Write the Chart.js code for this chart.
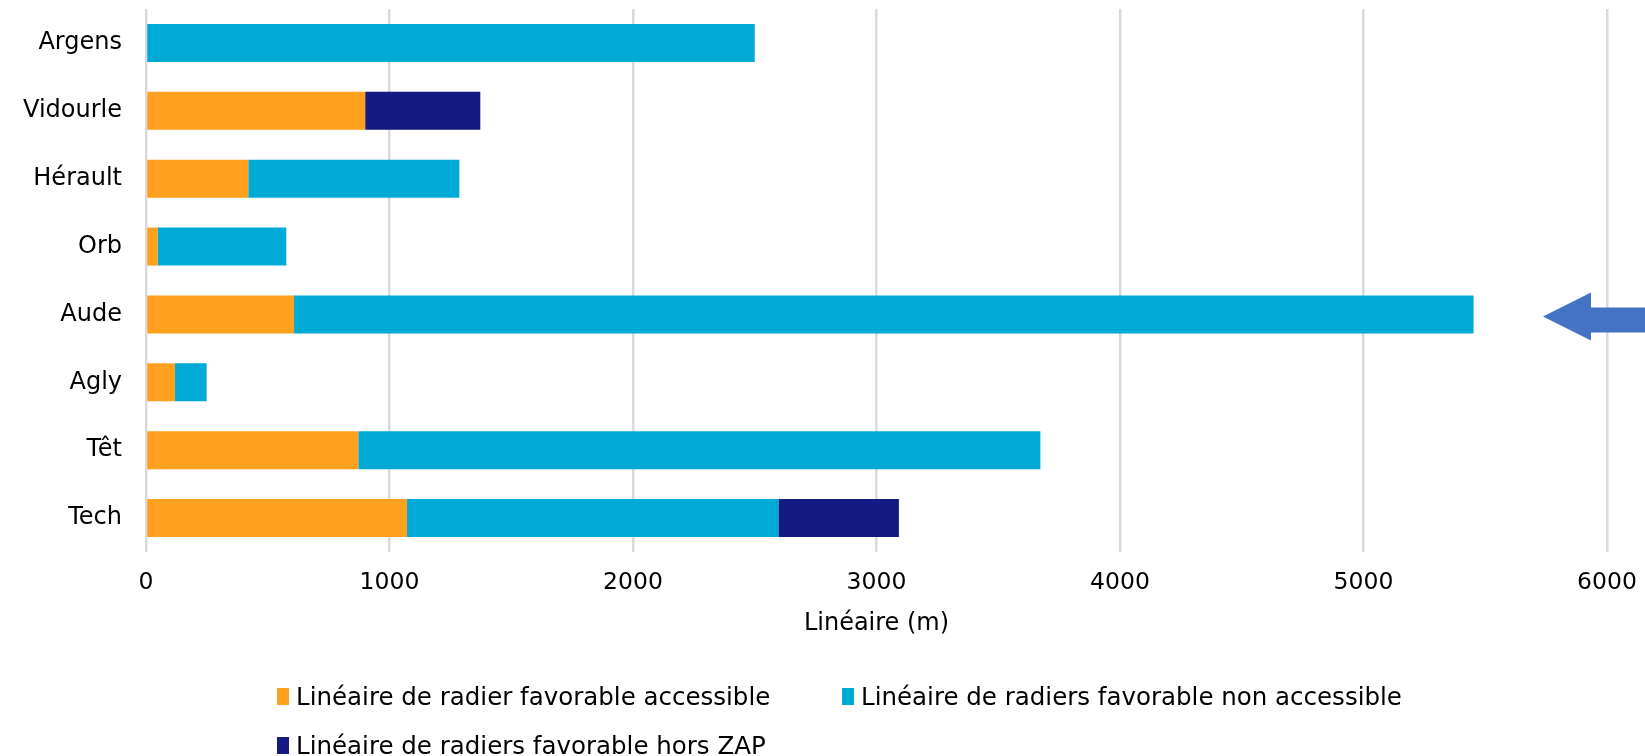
<!DOCTYPE html>
<html>
<head>
<meta charset="utf-8">
<script src="https://cdn.jsdelivr.net/npm/chart.js@4.4.1/dist/chart.umd.min.js"></script>
<style>
  html, body { margin: 0; padding: 0; background: #ffffff; }
  #wrap { position: relative; width: 1645px; height: 756px; overflow: hidden; }
  #c { position: absolute; left: 0; top: 0; }
  .lg { position: absolute; display: flex; align-items: center; font-family: 'DejaVu Sans', sans-serif; font-size: 24.5px; color: #000; white-space: nowrap; }
  .lg .mk { display: inline-block; width: 12px; height: 17px; margin-right: 7px; }
</style>
</head>
<body>
<div id="wrap">
  <canvas id="c" width="1645" height="756"></canvas>
</div>
<script>
// ---- data ----
const categories = ['Argens', 'Vidourle', 'Hérault', 'Orb', 'Aude', 'Agly', 'Têt', 'Tech'];
const accessible = [0, 900, 420, 48, 608, 119, 872, 1072];
const nonAccessible = [2500, 0, 867, 528, 4844, 130, 2801, 1525];
const horsZap = [0, 473, 0, 0, 0, 0, 0, 495];
const seriesLabels = [
  'Linéaire de radier favorable accessible',
  'Linéaire de radiers favorable non accessible',
  'Linéaire de radiers favorable hors ZAP'
];
const seriesColors = ['#FFA01F', '#00AAD6', '#131A82'];
const xTicks = [0, 1000, 2000, 3000, 4000, 5000, 6000];
const xTitle = 'Linéaire (m)';
const arrowCategory = 'Aude';

const FONT = "'DejaVu Sans', sans-serif";

const arrowPlugin = {
  id: 'arrow',
  afterDraw(chart) {
    const ctx = chart.ctx;
    const ys = chart.scales.y;
    const ca = chart.chartArea;
    const y = ys.getPixelForValue(categories.indexOf(arrowCategory)) + 2;
    const tip = ca.right - 64;
    const back = tip + 48;
    ctx.save();
    ctx.fillStyle = '#4472C4';
    ctx.beginPath();
    ctx.moveTo(tip, y);
    ctx.lineTo(back, y - 24);
    ctx.lineTo(back, y - 9);
    ctx.lineTo(chart.width + 2, y - 9);
    ctx.lineTo(chart.width + 2, y + 16);
    ctx.lineTo(back, y + 16);
    ctx.lineTo(back, y + 24);
    ctx.closePath();
    ctx.fill();
    ctx.restore();
  }
};

const datasets = [accessible, nonAccessible, horsZap].map((d, i) => ({
  label: seriesLabels[i],
  data: d,
  backgroundColor: seriesColors[i],
  borderWidth: 0,
  categoryPercentage: 1.0,
  barPercentage: 0.56
}));

const chart = new Chart(document.getElementById('c'), {
  type: 'bar',
  data: { labels: categories, datasets },
  options: {
    indexAxis: 'y',
    responsive: false,
    animation: false,
    devicePixelRatio: 1,
    layout: { padding: { top: 9, right: 38, bottom: 117.6, left: 0 } },
    plugins: { legend: { display: false }, tooltip: { enabled: false } },
    scales: {
      x: {
        stacked: true,
        min: 0,
        max: 6000,
        afterBuildTicks(scale) { scale.ticks = xTicks.map(v => ({ value: v })); },
        ticks: { color: '#000', font: { family: FONT, size: 23.5 }, padding: 17, maxRotation: 0, callback: (v) => String(v) },
        grid: { color: '#D9D9D9', lineWidth: 2.5, drawTicks: false },
        border: { display: false },
        title: { display: true, text: xTitle, color: '#000', font: { family: FONT, size: 24 }, padding: { top: 13.6, bottom: 0 } },
        afterFit(scale) { scale.height = 86.4; scale.paddingLeft = 0; scale.paddingRight = 0; }
      },
      y: {
        stacked: true,
        ticks: { color: '#000', font: { family: FONT, size: 24 }, padding: 24 },
        grid: { display: false, drawTicks: false },
        border: { display: false },
        afterFit(scale) { scale.width = 146; scale.paddingTop = 0; scale.paddingBottom = 0; }
      }
    }
  },
  plugins: [arrowPlugin]
});

// ---- legend (Excel-like grid layout) ----
const wrap = document.getElementById('wrap');
const legendPos = [[277, 696], [842, 696], [277, 745]];
seriesLabels.forEach((lab, i) => {
  const d = document.createElement('div');
  d.className = 'lg';
  d.style.left = legendPos[i][0] + 'px';
  d.style.top = (legendPos[i][1] - 14) + 'px';
  d.style.height = '28px';
  const m = document.createElement('span');
  m.className = 'mk';
  m.style.background = seriesColors[i];
  const t = document.createElement('span');
  t.textContent = lab;
  d.appendChild(m);
  d.appendChild(t);
  wrap.appendChild(d);
});
</script>
</body>
</html>
